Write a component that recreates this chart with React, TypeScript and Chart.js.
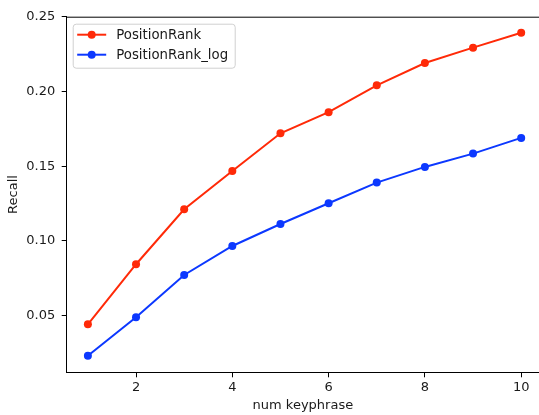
import React, { useEffect, useRef } from "react";
import { Chart, registerables } from "chart.js";

Chart.register(...registerables);

const numKeyphrase = [1, 2, 3, 4, 5, 6, 7, 8, 9, 10];
const positionRank = [0.0442, 0.0844, 0.1212, 0.1468, 0.172, 0.1861, 0.2041, 0.219, 0.2293, 0.2393];
const positionRankLog = [0.0232, 0.0489, 0.0772, 0.0966, 0.1113, 0.1252, 0.139, 0.1495, 0.1584, 0.1689];
const yTicks = [0.05, 0.1, 0.15, 0.2, 0.25];
const xTicks = [2, 4, 6, 8, 10];
const seriesNames = ["PositionRank", "PositionRank_log"];
const seriesColors = ["#ff2a08", "#0c38ff"];

const FONT = "'DejaVu Sans', sans-serif";
const TEXT = "#1a1a1a";

const framePlugin = {
  id: "frame",
  afterDraw(chart: any) {
    const { ctx, chartArea } = chart;
    ctx.save();
    ctx.strokeStyle = "#000";
    ctx.lineWidth = 1;
    ctx.beginPath();
    ctx.moveTo(chartArea.left, chartArea.top + 0.5);
    ctx.lineTo(chartArea.right, chartArea.top + 0.5);
    ctx.stroke();

    // legend inside axes
    const x0 = chartArea.left + 6.5;
    const y0 = chartArea.top + 7.5;
    const w = 162;
    const h = 44;
    ctx.fillStyle = "rgba(255,255,255,0.8)";
    ctx.strokeStyle = "#d0d0d0";
    ctx.lineWidth = 1;
    const r = 3;
    ctx.beginPath();
    ctx.moveTo(x0 + r, y0);
    ctx.lineTo(x0 + w - r, y0);
    ctx.arcTo(x0 + w, y0, x0 + w, y0 + r, r);
    ctx.lineTo(x0 + w, y0 + h - r);
    ctx.arcTo(x0 + w, y0 + h, x0 + w - r, y0 + h, r);
    ctx.lineTo(x0 + r, y0 + h);
    ctx.arcTo(x0, y0 + h, x0, y0 + h - r, r);
    ctx.lineTo(x0, y0 + r);
    ctx.arcTo(x0, y0, x0 + r, y0, r);
    ctx.closePath();
    ctx.fill();
    ctx.stroke();

    chart.data.datasets.forEach((ds: any, i: number) => {
      const cy = y0 + 10.5 + i * 20;
      ctx.strokeStyle = ds.borderColor;
      ctx.lineWidth = 2;
      ctx.beginPath();
      ctx.moveTo(x0 + 4, cy);
      ctx.lineTo(x0 + 33, cy);
      ctx.stroke();
      ctx.fillStyle = ds.backgroundColor;
      ctx.beginPath();
      ctx.arc(x0 + 18.5, cy, 4, 0, Math.PI * 2);
      ctx.fill();
      ctx.fillStyle = TEXT;
      ctx.font = `13.3px ${FONT}`;
      ctx.textBaseline = "middle";
      ctx.textAlign = "left";
      ctx.fillText(ds.label, x0 + 43, cy + 0.5);
    });
    ctx.restore();
  },
};

export default function App() {
  const ref = useRef<HTMLCanvasElement>(null);
  useEffect(() => {
    if (!ref.current) return;
    const chart = new Chart(ref.current, {
      type: "line",
      data: {
        datasets: [positionRank, positionRankLog].map((vals, i) => ({
          label: seriesNames[i],
          data: numKeyphrase.map((x, j) => ({ x, y: vals[j] })),
          borderColor: seriesColors[i],
          backgroundColor: seriesColors[i],
          borderWidth: 2,
          pointRadius: 4,
          pointHoverRadius: 4,
          pointBorderWidth: 0,
          tension: 0,
        })),
      },
      options: {
        responsive: false,
        animation: false,
        layout: { autoPadding: false, padding: { left: 0, right: 0, top: 16.7, bottom: 0 } },
        plugins: { legend: { display: false }, tooltip: { enabled: false } },
        scales: {
          x: {
            type: "linear",
            min: 0.56,
            max: 10.37,
            afterFit: (s: any) => { s.height = 42.7; s.paddingLeft = 0; s.paddingRight = 0; },
            afterBuildTicks: (s: any) => { s.ticks = xTicks.map((v) => ({ value: v })); },
            grid: { drawOnChartArea: false, drawTicks: true, tickLength: 5, tickColor: "#000" },
            border: { display: true, color: "#000", width: 1 },
            ticks: { color: TEXT, font: { family: FONT, size: 13 }, padding: 3, maxRotation: 0, callback: (v: any) => String(v) },
            title: { display: true, text: "num keyphrase", color: TEXT, font: { family: FONT, size: 13 }, padding: { top: 0, bottom: 2 } },
          },
          y: {
            type: "linear",
            min: 0.0121,
            max: 0.25,
            afterFit: (s: any) => { s.width = 66.7; s.paddingTop = 0; s.paddingBottom = 0; },
            afterBuildTicks: (s: any) => { s.ticks = yTicks.map((v) => ({ value: v })); },
            grid: { drawOnChartArea: false, drawTicks: true, tickLength: 5, tickColor: "#000" },
            border: { display: true, color: "#000", width: 1 },
            ticks: { color: TEXT, font: { family: FONT, size: 13 }, padding: 6.5, callback: (v: any) => Number(v).toFixed(2) },
            title: { display: true, text: "Recall", color: TEXT, font: { family: FONT, size: 13 }, padding: { top: 5.5, bottom: 0 } },
          },
        },
      },
      plugins: [framePlugin],
    });
    return () => chart.destroy();
  }, []);
  return (
    <div style={{ position: "absolute", left: 0, top: 0, width: 539, height: 415, overflow: "hidden", background: "#fff" }}>
      <canvas ref={ref} width={539} height={415} style={{ width: 539, height: 415, display: "block" }} />
    </div>
  );
}
